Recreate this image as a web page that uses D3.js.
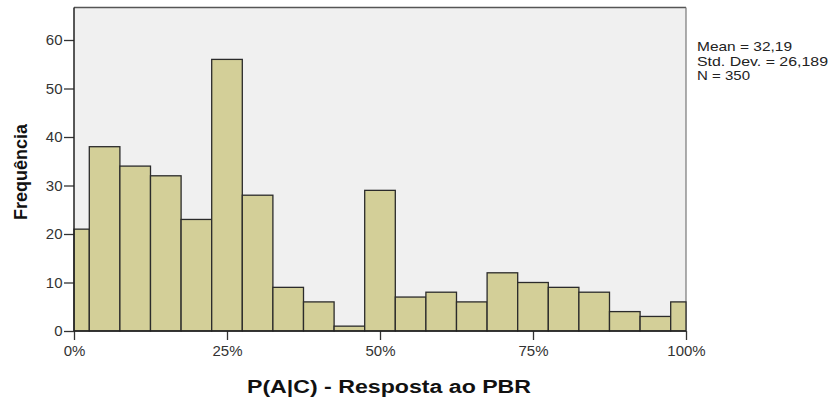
<!DOCTYPE html>
<html><head><meta charset="utf-8">
<script src="https://cdn.jsdelivr.net/npm/d3@7"></script>
<style>body{margin:0;background:#fff}svg{display:block}</style>
</head><body>
<script>
const binStarts = [0,2.5,7.5,12.5,17.5,22.5,27.5,32.5,37.5,42.5,47.5,52.5,57.5,62.5,67.5,72.5,77.5,82.5,87.5,92.5,97.5];
const binEnds   = [2.5,7.5,12.5,17.5,22.5,27.5,32.5,37.5,42.5,47.5,52.5,57.5,62.5,67.5,72.5,77.5,82.5,87.5,92.5,97.5,100];
const counts    = [21,38,34,32,23,56,28,9,6,1,29,7,8,6,12,10,9,8,4,3,6];
const xTicks = [0,25,50,75,100];
const yTicks = [0,10,20,30,40,50,60];
const statsLines = ["Mean = 32,19","Std. Dev. = 26,189","N = 350"];
const statsWidths = [95,131,53];

const W=830,H=399;
const svg=d3.select("body").append("svg").attr("width",W).attr("height",H);
const x=d3.scaleLinear().domain([0,100]).range([74,686]);
const y=d3.scaleLinear().domain([0,60]).range([331,40]);
const yTop=7.5;
const font="Arial, 'Liberation Sans', sans-serif";

svg.append("rect").attr("x",74).attr("y",yTop).attr("width",686-74).attr("height",331-yTop)
  .attr("fill","#f0f0f0");
svg.append("line").attr("x1",74).attr("x2",686).attr("y1",yTop).attr("y2",yTop).attr("stroke","#555").attr("stroke-width",1.5);
svg.append("line").attr("x1",686).attr("x2",686).attr("y1",yTop).attr("y2",331).attr("stroke","#777").attr("stroke-width",1.2);

svg.selectAll("rect.bar").data(counts).enter().append("rect").attr("class","bar")
  .attr("x",(d,i)=>x(binStarts[i])).attr("width",(d,i)=>x(binEnds[i])-x(binStarts[i]))
  .attr("y",d=>y(d)).attr("height",d=>y(0)-y(d))
  .attr("fill","#d3cf98").attr("stroke","#2b2b2b").attr("stroke-width",1.3);

const gy=svg.append("g").attr("transform","translate(74,0)")
  .call(d3.axisLeft(y).tickValues(yTicks).tickSize(10).tickPadding(1.5));
const gx=svg.append("g").attr("transform","translate(0,331)")
  .call(d3.axisBottom(x).tickValues(xTicks).tickSize(9).tickPadding(5).tickFormat(d=>d+"%"));
[gy,gx].forEach(g=>{
  g.select(".domain").remove();
  g.selectAll("line").attr("stroke","#333").attr("stroke-width",1.3);
  g.selectAll("text").attr("font-family",font).attr("font-size","15px").attr("fill","#333");
});
svg.append("line").attr("x1",74).attr("x2",74).attr("y1",yTop).attr("y2",331).attr("stroke","#222").attr("stroke-width",1.5);
svg.append("line").attr("x1",74).attr("x2",686).attr("y1",331).attr("y2",331).attr("stroke","#222").attr("stroke-width",1.5);

svg.append("text").attr("transform","translate(27,172) rotate(-90)").attr("text-anchor","middle")
  .attr("font-family",font).attr("font-weight","bold").attr("font-size","18px").attr("fill","#111").text("Frequência");
svg.append("text").attr("x",389).attr("y",393).attr("text-anchor","middle")
  .attr("textLength",284).attr("lengthAdjust","spacingAndGlyphs")
  .attr("font-family",font).attr("font-weight","bold").attr("font-size","18px").attr("fill","#111").text("P(A|C) - Resposta ao PBR");

svg.selectAll("text.stats").data(statsLines).enter().append("text").attr("class","stats")
  .attr("x",697).attr("y",(d,i)=>51+i*14.5)
  .attr("textLength",(d,i)=>statsWidths[i]).attr("lengthAdjust","spacingAndGlyphs")
  .attr("font-family",font).attr("font-size","13.5px").attr("fill","#222").text(d=>d);
</script>
</body></html>
